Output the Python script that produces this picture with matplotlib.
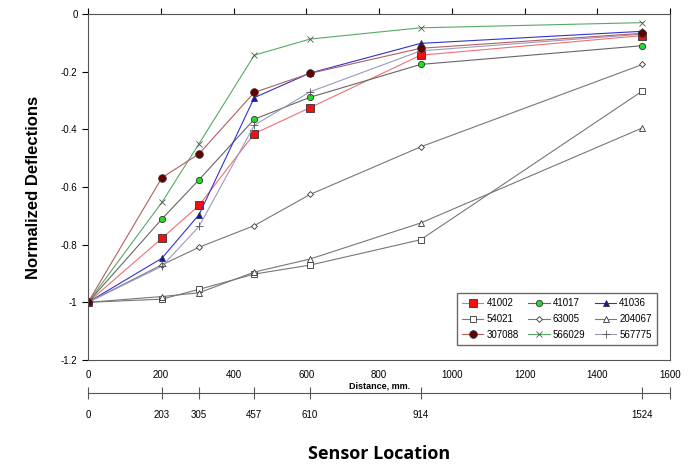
import matplotlib
matplotlib.use("Agg")
import matplotlib.pyplot as plt

# sensor offsets, mm
distance = [0, 203, 305, 457, 610, 914, 1524]

# normalized deflections per section
d41002 = [-1.0, -0.778, -0.664, -0.415, -0.325, -0.143, -0.075]
d41017 = [-1.0, -0.711, -0.575, -0.365, -0.289, -0.175, -0.110]
d41036 = [-1.0, -0.847, -0.696, -0.290, -0.205, -0.102, -0.060]
d54021 = [-1.0, -0.989, -0.955, -0.902, -0.871, -0.783, -0.267]
d63005 = [-1.0, -0.870, -0.809, -0.734, -0.626, -0.461, -0.175]
d204067 = [-1.0, -0.980, -0.967, -0.895, -0.850, -0.725, -0.395]
d307088 = [-1.0, -0.568, -0.485, -0.272, -0.206, -0.119, -0.067]
d566029 = [-1.0, -0.653, -0.450, -0.143, -0.087, -0.048, -0.030]
d567775 = [-1.0, -0.875, -0.737, -0.386, -0.270, -0.128, -0.070]

x_ticks = [0, 200, 400, 600, 800, 1000, 1200, 1400, 1600]
y_ticks = [0, -0.2, -0.4, -0.6, -0.8, -1, -1.2]
y_labels = ["0", "-0.2", "-0.4", "-0.6", "-0.8", "-1", "-1.2"]
sensor_ticks = [0, 203, 305, 457, 610, 914, 1524]

plt.rcParams['font.family'] = ['Liberation Sans', 'DejaVu Sans']
plt.rcParams['axes.unicode_minus'] = False

fig = plt.figure(figsize=(6.88, 4.66), dpi=100)
ax = fig.add_axes([0.128, 0.2275, 0.846, 0.7425])

# (label, data, line colour, marker, face, size)
series = [
    ("41002", d41002, "#f07070", "s", "#ee1111", 5.5),
    ("41017", d41017, "#666666", "o", "#22dd22", 4.5),
    ("41036", d41036, "#3333cc", "^", "#1111cc", 5),
    ("54021", d54021, "#777777", "s", "white", 5),
    ("63005", d63005, "#777777", "D", "white", 3),
    ("204067", d204067, "#777777", "^", "white", 5),
    ("567775", d567775, "#9a9ac0", "+", "#555555", 6),
    ("566029", d566029, "#55aa66", "x", "#555555", 4.5),
    ("307088", d307088, "#b06060", "o", "#660000", 5.5),
]

handles = {}
for name, vals, lc, mk, fc, ms in series:
    ec = "#333333" if mk not in ("x", "+") else fc
    h, = ax.plot(distance, vals, color=lc, lw=0.8, marker=mk, ms=ms,
                 markerfacecolor=fc, markeredgecolor=ec, markeredgewidth=0.6,
                 label=name)
    handles[name] = h

ax.set_xlim(0, 1600)
ax.set_ylim(-1.2, 0)
ax.set_xticks(x_ticks)
ax.set_yticks(y_ticks)
ax.set_yticklabels(y_labels)
ax.tick_params(axis='x', top=True, bottom=False, labelbottom=True,
               direction='out', labelsize=7, length=4)
ax.tick_params(axis='y', direction='out', labelsize=7, length=4)
for s in ax.spines.values():
    s.set_color("#555555")
ax.set_xlabel("Distance, mm.", fontsize=6.5, fontweight='bold', labelpad=1)
ax.set_ylabel("Normalized Deflections", fontsize=12, fontweight='bold', labelpad=14)

# legend row-wise like the original
order = ["41002", "54021", "307088", "41017", "63005", "566029",
         "41036", "204067", "567775"]
ax.legend([handles[k] for k in order], order, ncol=3, loc='lower right',
          bbox_to_anchor=(0.985, 0.03), fontsize=7, fancybox=False,
          edgecolor="#444444", handlelength=2.2, columnspacing=1.0,
          handletextpad=0.3, labelspacing=0.6, borderpad=0.5)

# sensor location scale
ax2 = fig.add_axes([0.128, 0.1567, 0.846, 0.0001])
ax2.set_xlim(0, 1600)
ax2.set_ylim(0, 1)
for k in ("top", "left", "right"):
    ax2.spines[k].set_visible(False)
ax2.spines["bottom"].set_color("#555555")
ax2.set_yticks([])
ax2.set_xticks(sensor_ticks + [1600])
ax2.set_xticklabels([str(v) for v in sensor_ticks] + [""])
ax2.tick_params(axis='x', direction='inout', length=8, labelsize=7, pad=8,
                color="#555555")
ax2.set_xlabel("Sensor Location", fontsize=13, fontweight='bold',
               family=['Open Sans', 'DejaVu Sans'], labelpad=18)

fig.savefig("out.png", dpi=100)
